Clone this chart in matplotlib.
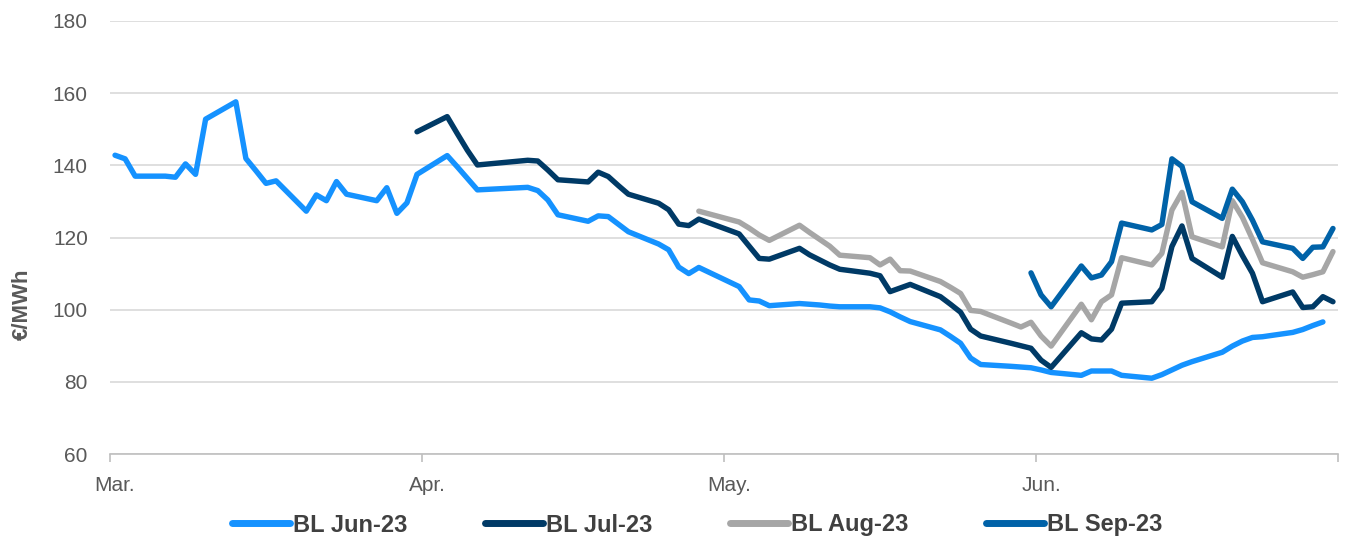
import matplotlib
matplotlib.use("Agg")
import matplotlib.pyplot as plt
import pandas as pd
import numpy as np

plt.rcParams['font.family'] = ['Liberation Sans', 'DejaVu Sans']

# ---- data (business days, holidays skipped) ----
holidays = ['2023-04-07', '2023-04-10', '2023-05-01']
trading_days = pd.bdate_range('2023-03-01', '2023-06-30')
trading_days = trading_days[~trading_days.isin(pd.to_datetime(holidays))]

jun23_start = '2023-03-01'
jun23 = [142.8, 141.8, 137.0, 137.0, 136.7, 140.4, 137.5, 152.8, 157.6, 141.9,
         138.5, 135.0, 135.7, 127.3, 131.8, 130.2, 135.5, 132.0, 130.2, 133.8,
         126.7, 129.6, 137.5,
         142.7, 139.6, 136.4, 133.2, 133.9, 133.0, 130.4, 126.3, 124.5, 126.0,
         125.8, 123.7, 121.6, 118.2, 116.6, 111.8, 110.0, 111.7,
         106.4, 102.7, 102.4, 101.1, 101.7, 101.5, 101.3, 101.0, 100.8, 100.8,
         100.5, 99.4, 98.0, 96.7, 94.4, 92.6, 90.7, 86.6, 84.8, 84.3, 84.1, 83.9,
         83.3, 82.6, 81.8, 83.0, 83.0, 83.0, 81.8, 81.0, 82.0, 83.3, 84.6, 85.6,
         88.2, 89.9, 91.3, 92.3, 92.5, 93.7, 94.5, 95.6, 96.6]

jul23_start = '2023-03-31'
jul23 = [149.3,
         153.5, 148.8, 144.2, 140.1, 141.4, 141.2, 138.7, 136.0, 135.4, 138.1,
         136.9, 134.4, 132.0, 129.5, 127.7, 123.7, 123.3, 125.1,
         121.0, 117.6, 114.2, 114.0, 117.0, 115.2, 113.8, 112.4, 111.2, 110.1,
         109.4, 105.0, 106.0, 107.0, 103.6, 101.5, 99.3, 94.6, 92.7, 90.7, 90.0, 89.3,
         86.0, 84.0, 93.6, 91.9, 91.6, 94.6, 101.8, 102.2, 105.9, 117.5, 123.2,
         114.2, 109.0, 120.3, 115.0, 110.1, 102.2, 104.9, 100.6, 100.8, 103.6, 102.2]

aug23_start = '2023-04-28'
aug23 = [127.3,
         124.3, 122.6, 120.7, 119.2, 123.4, 121.4, 119.5, 117.6, 115.1, 114.4,
         112.4, 114.0, 110.8, 110.7, 107.8, 106.2, 104.5, 99.8, 99.5, 96.3, 95.2, 96.5,
         92.7, 89.9, 101.5, 97.2, 102.2, 104.1, 114.4, 112.4, 115.6, 127.6, 132.5,
         120.2, 117.4, 130.2, 125.6, 119.5, 113.0, 110.5, 109.0, 109.7, 110.5, 116.1]

sep23_start = '2023-05-31'
sep23 = [110.2,
         104.1, 100.8, 112.1, 108.8, 109.6, 113.3, 124.0, 122.1, 123.6, 141.8,
         139.7, 129.9, 125.3, 133.4, 129.9, 124.8, 118.8, 117.0, 114.2, 117.3,
         117.4, 122.5]

series_names = ['BL Jun-23', 'BL Jul-23', 'BL Aug-23', 'BL Sep-23']
series_values = [jun23, jul23, aug23, sep23]
series_starts = [jun23_start, jul23_start, aug23_start, sep23_start]
series_colors = ['#1592FF', '#003A66', '#A6A6A6', '#0062A8']

month_labels = ['Mar.', 'Apr.', 'May.', 'Jun.']
month_starts = ['2023-03-01', '2023-04-01', '2023-05-01', '2023-06-01']

# ---- figure ----
fig = plt.figure(figsize=(13.54, 5.37), dpi=100)
ax = fig.add_axes([110/1354, 1 - 454/537, (1338-110)/1354, (454-21)/537])

for name, vals, start, col in zip(series_names, series_values, series_starts, series_colors):
    i0 = trading_days.get_loc(pd.Timestamp(start))
    dates = trading_days[i0:i0 + len(vals)] + pd.Timedelta(hours=12)
    ax.plot(dates, vals, color=col, lw=3.9, label=name,
            solid_capstyle='round', solid_joinstyle='round')

ax.set_xlim(pd.Timestamp('2023-03-01'), pd.Timestamp('2023-07-01'))
ax.set_ylim(60, 180)
ax.set_yticks(np.arange(60, 181, 20))
ax.grid(axis='y', color='#D9D9D9', lw=1.2)
ax.set_axisbelow(True)

for s in ['top', 'right', 'left']:
    ax.spines[s].set_visible(False)
ax.spines['bottom'].set_color('#BFBFBF')
ax.spines['bottom'].set_linewidth(1.2)

# month boundary ticks (no labels) and centered labels
major = [pd.Timestamp(m) for m in month_starts] + [pd.Timestamp('2023-07-01')]
ax.set_xticks(major)
ax.set_xticklabels([''] * len(major))
ax.tick_params(axis='x', which='major', length=6, width=1.2, color='#BFBFBF')
minor = [pd.Timestamp(m) + pd.Timedelta(hours=12) for m in month_starts]
ax.set_xticks(minor, minor=True)
ax.set_xticklabels(month_labels, minor=True)
ax.tick_params(axis='x', which='minor', length=0, pad=16, labelsize=15, labelcolor='#595959')

ax.tick_params(axis='y', length=0, pad=16, labelsize=15, labelcolor='#595959')

fig.text(22/1354, 1 - 304/537, '€/MWh', rotation=90, ha='center', va='center',
         fontsize=16, fontweight='bold', color='#595959')

leg = fig.legend(loc='center', bbox_to_anchor=(697/1354, 1 - 525/537), ncol=4,
                 frameon=False, handlelength=2.45, handletextpad=0.12,
                 columnspacing=3.3, prop={'size': 17, 'weight': 'bold'})
for t in leg.get_texts():
    t.set_color('#404040')
for h in leg.get_lines():
    h.set_linewidth(5)
    h.set_solid_capstyle('round')

fig.savefig('out.png', dpi=100)
